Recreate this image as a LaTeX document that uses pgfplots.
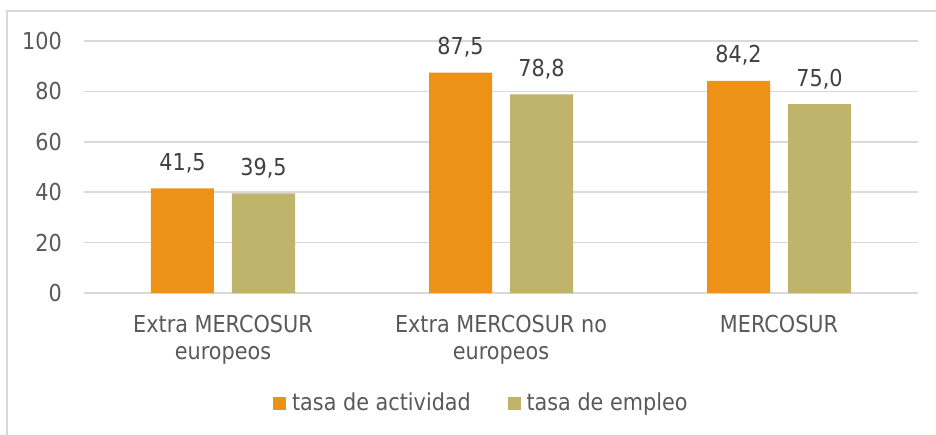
\documentclass[border=0pt]{standalone}
\usepackage{fontspec}
\setmainfont{DejaVu Sans}[FakeStretch=0.89]
\usepackage{pgfplots}
\pgfplotsset{compat=1.18}
\definecolor{barorange}{HTML}{EE9217}
\definecolor{barolive}{HTML}{C0B46C}
\definecolor{ink}{HTML}{595959}
\definecolor{inkdark}{HTML}{404040}
\definecolor{gridgray}{HTML}{D9D9D9}
\newcommand{\chartfont}{\fontsize{17.5}{20.25}\selectfont}

\begin{document}
\begin{tikzpicture}
% picture is 936x435 px at 0.75pt per px
\useasboundingbox (0,0) rectangle (702pt,-326.25pt);
\draw[gridgray, line width=1.2pt] (5.25pt,-326.25pt) -- (5.25pt,-8.25pt) -- (702pt,-8.25pt);
\begin{axis}[
  at={(63pt,-219.75pt)}, anchor=south west,
  scale only axis, width=625.5pt, height=189pt,
  xmin=-0.5, xmax=2.5, ymin=0, ymax=100,
  ytick={0,20,40,60,80,100},
  xtick={0,1,2},
  xticklabels={{Extra MERCOSUR\\europeos},{Extra MERCOSUR no\\europeos},{MERCOSUR}},
  xticklabel style={align=center, anchor=north, inner sep=0pt, yshift=-12.5pt, font=\chartfont, text=ink},
  yticklabel style={anchor=east, inner sep=0pt, xshift=-16.5pt, font=\chartfont, text=ink},
  /pgf/number format/assume math mode=true,
  ymajorgrids, grid style={draw=gridgray, line width=1.1pt},
  axis line style={draw=none}, tick style={draw=none},
  ybar=13.5pt, bar width=47.25pt,
  nodes near coords={\pgfmathprintnumber[fixed, fixed zerofill, precision=1, use comma, assume math mode=true]{\pgfplotspointmeta}},
  every node near coord/.append style={anchor=base, inner sep=0pt, yshift=13.5pt, font=\chartfont, text=inkdark},
  clip=false,
  legend style={at={(0.477,-0.437)}, anchor=center, draw=none, fill=none,
    font=\chartfont, text=ink, legend columns=2,
    /tikz/every even column/.append style={column sep=25.75pt}},
  legend image code/.code={\fill[#1] (0pt,-4.875pt) rectangle (9.75pt,4.875pt); \path (12pt,0pt);},
]
\addplot[fill=barorange, draw=none] coordinates {(0,41.5) (1,87.5) (2,84.2)};
\addplot[fill=barolive, draw=none] coordinates {(0,39.5) (1,78.8) (2,75.0)};
\legend{tasa de actividad, tasa de empleo}
\end{axis}
\end{tikzpicture}
\end{document}
